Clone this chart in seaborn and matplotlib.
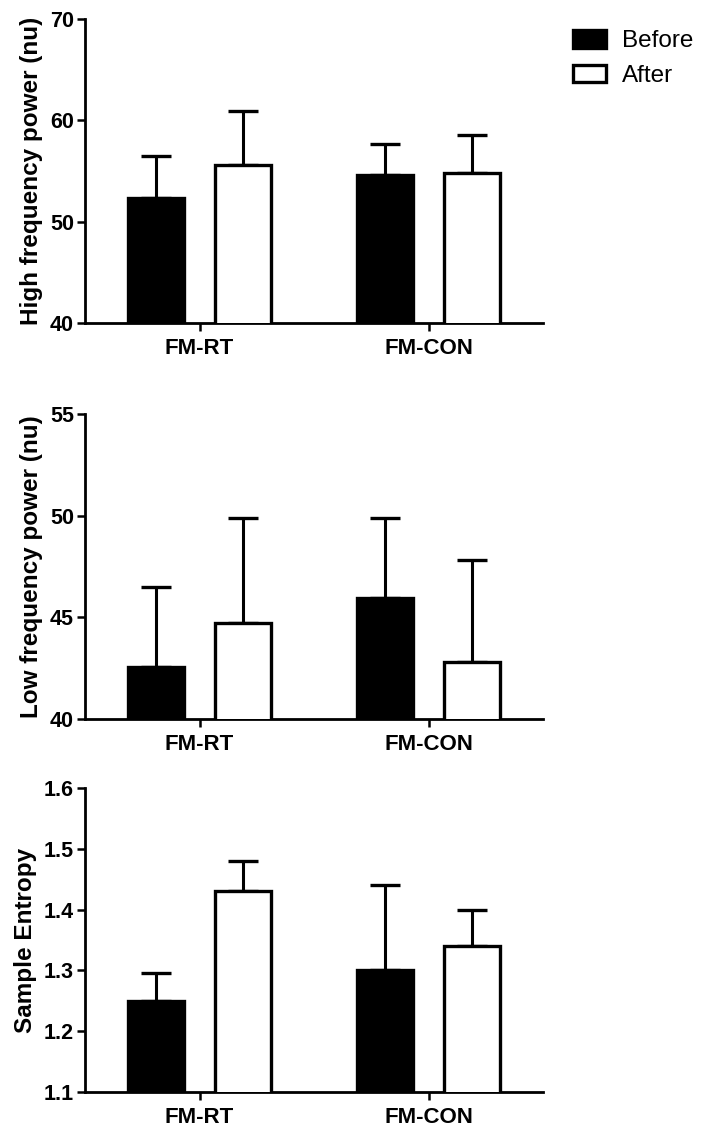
import matplotlib
matplotlib.use('Agg')
import matplotlib.pyplot as plt
from matplotlib.patches import Patch
import seaborn as sns
import pandas as pd
import numpy as np

groups = ['FM-RT', 'FM-CON']
phases = ['Before', 'After']

hf_before = [52.3, 54.6]
hf_after = [55.6, 54.8]
hf_before_err = [4.2, 3.1]
hf_after_err = [5.3, 3.8]

lf_before = [42.55, 45.95]
lf_after = [44.7, 42.8]
lf_before_err = [3.95, 3.95]
lf_after_err = [5.2, 5.0]

se_before = [1.25, 1.30]
se_after = [1.43, 1.34]
se_before_err = [0.045, 0.14]
se_after_err = [0.05, 0.06]

panels = [
    ('High frequency power (nu)', hf_before, hf_after, hf_before_err, hf_after_err, (40, 70), [40, 50, 60, 70]),
    ('Low frequency power (nu)', lf_before, lf_after, lf_before_err, lf_after_err, (40, 55), [40, 45, 50, 55]),
    ('Sample Entropy', se_before, se_after, se_before_err, se_after_err, (1.1, 1.6), [1.1, 1.2, 1.3, 1.4, 1.5, 1.6]),
]

sns.set_style('ticks')
plt.rcParams['font.family'] = ['Liberation Sans', 'DejaVu Sans']
plt.rcParams.update({
    'text.color': 'black', 'axes.labelcolor': 'black', 'axes.edgecolor': 'black',
    'xtick.color': 'black', 'ytick.color': 'black',
})

W, H = 709, 1133
fig = plt.figure(figsize=(W / 100, H / 100), dpi=100)

# axes boxes in pixels: (top, bottom)
boxes = [(19, 323), (414, 719), (788, 1092)]
left_px, right_px = 85, 543

lw = 2.4
for (label, before, after, berr, aerr, ylim, yticks), (top, bot) in zip(panels, boxes):
    ax = fig.add_axes([left_px / W, 1 - bot / H, (right_px - left_px) / W, (bot - top) / H])
    df = pd.DataFrame({
        'group': groups * 2,
        'phase': ['Before'] * 2 + ['After'] * 2,
        'value': before + after,
    })
    sns.barplot(data=df, x='group', y='value', hue='phase', hue_order=phases,
                palette={'Before': 'black', 'After': 'white'}, edgecolor='black',
                linewidth=lw, width=0.76, gap=0.36, errorbar=None, legend=False,
                ax=ax, zorder=3)
    errs = berr + aerr
    vals = before + after
    bars = ax.patches[:4]
    xs = [p.get_x() + p.get_width() / 2 for p in bars]
    ax.errorbar(xs, vals, yerr=[np.zeros(4), errs], fmt='none', ecolor='black',
                elinewidth=2.2, capsize=10.5, capthick=2.4, zorder=2)
    ax.set_xlim(-0.5, 1.5)
    ax.set_ylim(*ylim)
    ax.set_yticks(yticks)
    ax.set_ylabel(label, fontsize=17.5, fontweight='bold', labelpad=5)
    ax.set_xlabel('')
    for t in ax.get_xticklabels():
        t.set_fontweight('bold')
    for t in ax.get_yticklabels():
        t.set_fontweight('bold')
    ax.tick_params(axis='x', labelsize=16, length=6, width=1.8, pad=5)
    ax.tick_params(axis='y', labelsize=15.5, length=6, width=1.8, pad=2)
    for s in ['left', 'bottom']:
        ax.spines[s].set_linewidth(2.0)
    sns.despine(ax=ax)

handles = [Patch(facecolor='black', edgecolor='black', linewidth=lw),
           Patch(facecolor='white', edgecolor='black', linewidth=lw)]
fig.legend(handles, phases, loc='upper left', bbox_to_anchor=(573 / W, 1 - 30 / H),
           frameon=False, fontsize=17.5, handlelength=1.35, handleheight=0.75,
           handletextpad=0.65, labelspacing=0.5, borderpad=0, borderaxespad=0)

fig.savefig('out.png', dpi=100)
